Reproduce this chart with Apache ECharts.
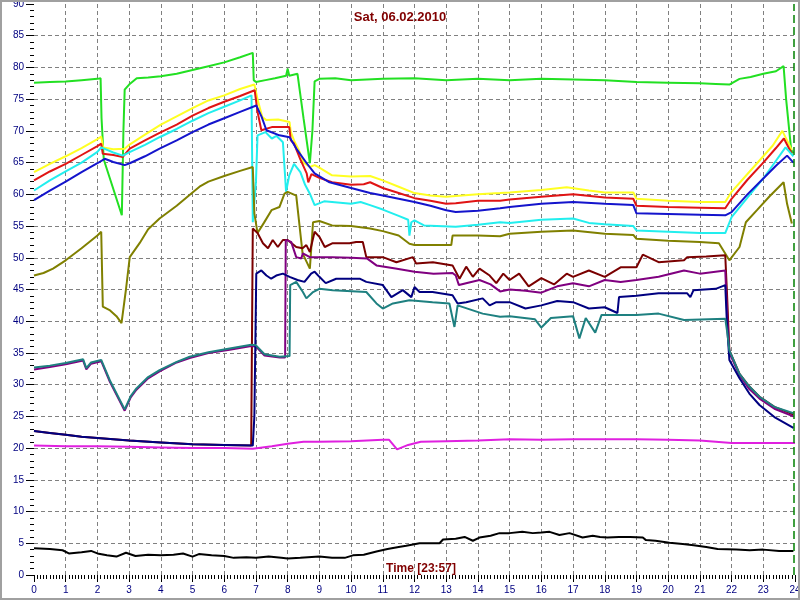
<!DOCTYPE html>
<html>
<head>
<meta charset="utf-8">
<script src="https://cdn.jsdelivr.net/npm/echarts@6/dist/echarts.min.js"></script>
<style>html,body{margin:0;padding:0;background:#fff}#c{width:800px;height:600px}</style>
</head>
<body>
<div id="c"></div>
<script>
const titleText = 'Sat, 06.02.2010';
const timeText = 'Time [23:57]';
const unitText = '°C';
const nowHour = 23.95;

const green = [[0,77.6],[0.5,77.7],[1,77.8],[1.5,78],[2,78.2],[2.1,78.3],[2.13,72],[2.2,65.5],[2.77,56.7],[2.82,70],[2.86,76.5],[3,77.3],[3.24,78.3],[3.6,78.4],[4,78.6],[4.5,79],[5,79.6],[5.5,80.2],[6,80.8],[6.5,81.6],[6.9,82.3],[6.93,78],[7,77.7],[7.3,78],[7.6,78.3],[7.95,78.7],[8,79.8],[8.05,78.7],[8.31,79],[8.5,72],[8.7,64.9],[8.78,70],[8.85,77.8],[9,78.2],[9.5,78.3],[10,78],[11,78.2],[12,78.3],[13,78],[14,78.2],[15,78],[16,78.2],[17,78.1],[18,78],[19,77.7],[20,77.6],[21,77.5],[21.5,77.4],[21.93,77.3],[22.25,78.2],[22.6,78.5],[23,79],[23.4,79.4],[23.64,80.2],[23.72,75],[23.88,67],[23.95,66.5]];
const yellow = [[0,63.5],[0.5,64.8],[1,66],[1.5,67.3],[2,68.7],[2.12,69.1],[2.18,67.4],[2.5,67.1],[2.86,67.2],[3,67.8],[3.5,69.4],[4,71],[4.5,72.3],[5,73.6],[5.5,74.8],[6,75.6],[6.5,76.6],[6.95,77.3],[7.05,75],[7.2,72.2],[7.33,71.7],[7.7,71.8],[8.06,71.4],[8.1,69.8],[8.2,68.5],[8.35,67],[8.5,65],[8.7,64.3],[8.85,64.6],[9,64.2],[9.4,63],[10,62.8],[10.6,62.9],[11,62.2],[11.5,61.2],[12,60.2],[12.5,59.8],[13,59.6],[13.5,59.8],[14,60],[14.7,60.2],[15,60.3],[16,60.7],[16.8,61.1],[17.5,60.6],[18,60.3],[18.9,60.3],[19,59.3],[20,59],[21,58.8],[21.8,58.8],[22,60.4],[22.5,63.2],[23,66],[23.3,67.7],[23.6,70],[23.9,67]];
const red = [[0,62.2],[0.5,63.6],[1,64.8],[1.5,66.2],[2,67.6],[2.12,68],[2.17,66.4],[2.5,66.2],[2.8,65.9],[3.02,67.2],[3.5,68.5],[3.96,69.7],[4.5,71],[5,72.4],[5.5,73.6],[6,74.6],[6.5,75.5],[6.96,76.4],[7.05,73],[7.17,70.1],[7.5,70.6],[8.05,70.6],[8.1,68.5],[8.2,68],[8.4,65.5],[8.6,63.3],[8.65,61.9],[8.75,63.2],[9,62.6],[9.4,61.9],[10,61.5],[10.4,61.6],[10.6,61.9],[11,61],[11.5,60.2],[12,59.4],[12.5,59],[13,58.5],[13.3,58.6],[14,59],[14.7,59],[15,59.2],[16,59.6],[17,60],[18,59.5],[18.9,59.3],[19,58.2],[20,58],[21,57.9],[21.8,57.8],[22,59.3],[22.5,62.3],[23,65],[23.4,67.3],[23.65,68.8],[23.9,66.4]];
const cyan = [[0,60.6],[0.5,62.2],[1,63.6],[1.5,65],[2,66.7],[2.12,67.4],[2.5,66.6],[2.8,66.1],[3,66.6],[3.5,67.8],[3.96,69],[4.5,70.3],[5,71.6],[5.5,72.8],[6,73.8],[6.5,74.8],[6.86,75.6],[6.9,55.6],[7.0,62],[7.05,69.3],[7.3,69.8],[7.5,68.8],[7.65,69.2],[7.85,68.2],[7.95,60.4],[8.05,63],[8.2,64.8],[8.4,63.5],[8.55,61.5],[8.7,60.1],[8.85,58.3],[9.15,58.9],[9.4,58.8],[10,58.5],[10.3,58.8],[10.6,58.3],[11,57.6],[11.5,56.6],[11.8,56],[11.84,53.5],[11.9,55.6],[12,55.9],[12.3,55.1],[13.3,54.9],[14,55.2],[14.7,55.6],[15,55.5],[16,56],[17,56.2],[17.5,55.5],[18,55.3],[18.9,55],[19,54.3],[20,54.1],[21,53.9],[21.8,53.9],[22,56.4],[22.5,59.5],[23,62.5],[23.4,65.3],[23.7,67.4],[23.95,66]];
const blue = [[0,59.1],[0.5,60.6],[1,62],[1.5,63.5],[2,64.9],[2.23,65.6],[2.5,65.1],[2.86,64.6],[3.02,64.9],[3.5,66],[3.96,67.2],[4.5,68.5],[5,69.8],[5.5,71],[6,72],[6.5,73],[7.01,74],[7.18,72.2],[7.33,70.1],[7.74,69.3],[8.06,69],[8.3,67],[8.6,64.9],[8.85,63.3],[9.32,61.9],[10,61],[10.6,60.2],[11,59.8],[11.5,59.3],[12,58.8],[12.5,58.2],[13,57.5],[13.3,57.2],[14,57.4],[14.7,57.8],[15,58],[16,58.5],[17,58.8],[18,58.5],[18.9,58.3],[19,57],[20,56.9],[21,56.8],[21.8,56.7],[22,57.2],[22.5,60],[23,62.5],[23.4,64.5],[23.75,66.1],[23.95,65]];
const olive = [[0,47.2],[0.3,47.6],[0.6,48.3],[1,49.6],[1.5,51.5],[2,53.5],[2.12,54.1],[2.17,42.3],[2.4,41.7],[2.6,40.8],[2.76,39.7],[2.9,45],[3.02,50.1],[3.33,52.3],[3.6,54.5],[3.96,56.2],[4.5,58.2],[5,60.3],[5.22,61.2],[5.5,62],[6,62.9],[6.5,63.7],[6.9,64.3],[6.95,57],[7.05,53.9],[7.25,55.5],[7.49,57.5],[7.74,58],[7.9,60.1],[8.0,60.4],[8.27,59.8],[8.47,50.7],[8.7,48.3],[8.8,55.6],[9,55.8],[9.4,55.1],[10,55],[10.6,54.6],[11,54.2],[11.5,53.5],[11.84,52.2],[12,52],[12.5,52],[13.16,52],[13.2,53.5],[14,53.5],[14.7,53.4],[15,53.8],[16,54.1],[17,54.3],[18,53.8],[18.9,53.6],[19,53],[20,52.7],[21,52.5],[21.6,52.3],[21.93,49.6],[22.25,51.7],[22.45,55.6],[22.8,57.5],[23.2,59.7],[23.64,61.9],[23.75,58.5],[23.9,55.4]];
const maroon = [[0,22.7],[0.5,22.4],[1,22.1],[1.5,21.8],[2,21.6],[3,21.2],[4,20.9],[5,20.6],[6,20.5],[6.85,20.4],[6.9,54.6],[7.05,53.9],[7.22,52.3],[7.38,51.5],[7.53,52.8],[7.69,51.7],[7.85,52.8],[8.0,52.8],[8.27,51.7],[8.47,51.5],[8.59,52],[8.7,50.9],[8.85,54.1],[9.0,53.3],[9.17,51.7],[9.42,52.3],[9.95,52.3],[10.16,52.5],[10.37,52.5],[10.48,50.1],[11.0,50.1],[11.43,49.3],[11.95,50.1],[12.05,49.1],[12.58,49.3],[13.2,48.8],[13.42,46.7],[13.63,48.6],[13.84,47],[14.05,48.3],[14.37,47.2],[14.58,46],[14.8,47.5],[15,46.5],[15.3,47.5],[15.6,45.5],[16,46.8],[16.4,45.8],[16.8,47.5],[17,47],[17.5,48],[18,47],[18.5,48.5],[19,48.5],[19.2,50.5],[19.7,49.3],[20.5,49.6],[20.6,50.1],[21.2,50.2],[21.8,50.4],[21.85,45],[21.93,35.4],[22.25,31.7],[22.56,29.7],[22.88,28.1],[23.35,26.5],[23.95,25.3]];
const purple = [[0,32.4],[0.5,32.8],[1,33.2],[1.55,33.8],[1.65,32.4],[1.8,33.3],[2.12,33.7],[2.39,30.5],[2.86,25.9],[3.05,28],[3.23,29.2],[3.6,31],[3.96,32.1],[4.5,33.5],[4.91,34.2],[5.5,35],[6.17,35.5],[6.85,36.1],[7.0,36],[7.27,34.6],[7.75,34.3],[7.92,34.3],[7.94,52.8],[8.11,52.5],[8.27,50.1],[8.43,49.9],[8.48,50.7],[8.7,50.1],[8.85,50.1],[9.4,50.1],[10,50],[10.5,49.9],[10.8,48.8],[11.4,48.3],[12,47.8],[12.6,47.5],[13.2,47.6],[13.3,47.2],[13.4,45.7],[14.05,46.5],[14.4,45.8],[14.7,44.7],[15,45],[15.5,44.8],[16,44.5],[16.5,45.5],[17,46],[17.5,45.5],[18,46.5],[18.5,46.2],[19,46.5],[19.7,47],[20.5,48],[21,47.5],[21.8,48],[21.87,40],[21.93,35],[22.25,31.5],[22.56,29.3],[22.88,27.8],[23.35,26.2],[23.95,25]];
const navy = [[0,22.7],[0.5,22.4],[1,22.1],[1.5,21.8],[2,21.6],[3,21.2],[4,20.9],[5,20.6],[6,20.5],[6.9,20.4],[6.95,25],[7.01,47.5],[7.17,48],[7.33,47.2],[7.48,46.7],[7.64,47.2],[7.85,47.5],[8.06,47],[8.31,46.5],[8.53,46.2],[8.74,47.5],[8.85,47.8],[9.0,47],[9.2,46],[9.53,46.7],[10.27,46.7],[10.48,46.2],[11.0,45.7],[11.27,43.8],[11.63,44.9],[11.9,43.8],[12.0,45.4],[12.16,44.6],[12.57,44.6],[13.2,44.1],[13.36,42.8],[13.63,43],[14.15,43.6],[14.37,42.5],[14.58,43],[15,43],[15.5,42],[16,42.5],[16.5,43.2],[17,43],[17.5,42],[18,42.2],[18.4,41.3],[18.45,43.8],[19,44],[19.7,44.4],[20.6,44.4],[20.7,43.8],[20.8,44.9],[21.5,45.1],[21.8,45.7],[21.85,40],[21.93,33.9],[22.25,31],[22.56,28.6],[22.88,26.8],[23.35,24.9],[23.95,23.2]];
const teal = [[0,32.7],[0.5,33],[1,33.4],[1.55,34],[1.65,32.6],[1.8,33.5],[2.12,33.9],[2.39,30.7],[2.86,26.1],[3.05,28.2],[3.23,29.4],[3.6,31.2],[3.96,32.3],[4.5,33.6],[4.91,34.4],[5.5,35.1],[6.17,35.7],[6.85,36.3],[7.0,36.2],[7.27,34.8],[7.75,34.4],[8.06,34.5],[8.08,45.7],[8.27,46.2],[8.48,44.6],[8.59,43.6],[8.8,44.6],[9.0,45.1],[9.42,44.9],[10.48,44.6],[10.8,42.8],[11.0,42],[11.32,42.8],[11.84,43.3],[12.57,43],[13.1,42.8],[13.26,39.1],[13.36,42.5],[14.15,41.2],[14.7,40.7],[15,40.8],[15.8,40.3],[16,39],[16.3,40.5],[17,40.8],[17.2,37.3],[17.4,40.5],[17.7,38.2],[17.9,41],[18.5,41],[19,41],[19.7,41.2],[20.5,40.2],[21.8,40.4],[21.87,38],[21.93,35.4],[22.25,31.7],[22.56,29.7],[22.88,28.1],[23.35,26.5],[23.95,25.5]];
const magenta = [[0,20.4],[1,20.3],[2,20.3],[3,20.2],[4,20.1],[5,20],[6,20],[6.9,19.9],[7.5,20.3],[8,20.7],[8.5,21],[9,21],[10,21.1],[10.5,21.2],[11,21.3],[11.2,21.3],[11.45,19.8],[11.8,20.5],[12.2,21],[13,21.1],[14,21.2],[15,21.4],[16,21.3],[17,21.4],[18,21.4],[19,21.4],[20,21.3],[21,21.2],[21.5,21],[22,20.8],[23,20.8],[24,20.8]];
const black = [[0,4.2],[0.5,4.1],[0.9,3.9],[1.1,3.4],[1.5,3.6],[1.8,3.8],[2.0,3.4],[2.3,3.1],[2.6,2.9],[2.9,3.5],[3.2,3.0],[3.6,3.2],[4,3.1],[4.4,3.2],[4.7,3.4],[5,2.9],[5.2,3.3],[5.6,3.1],[6,3.0],[6.3,2.7],[6.7,2.8],[7,2.7],[7.4,2.9],[7.8,2.7],[8,2.6],[8.4,2.7],[9,2.9],[9.4,2.7],[9.8,2.7],[10.06,3.1],[10.4,3.2],[10.8,3.7],[11.15,4.1],[11.5,4.4],[11.74,4.6],[12.16,5],[12.5,5],[12.79,5],[12.9,5.6],[13.3,5.7],[13.58,6],[13.84,5.4],[14.05,5.9],[14.4,6.2],[14.68,6.6],[15.0,6.6],[15.4,6.8],[15.73,6.6],[16.0,6.7],[16.26,6.8],[16.57,6.3],[16.89,6.6],[17.3,5.9],[17.62,6.2],[17.85,6.0],[18.08,5.9],[18.45,6],[18.8,6],[19.2,5.9],[19.3,5.5],[19.6,5.4],[20.04,5.1],[20.46,4.9],[20.8,4.7],[21.2,4.4],[21.56,4.1],[22.15,4],[22.57,3.9],[23,4],[23.5,3.8],[23.95,3.8]];

const seriesList = [
  ['green', green, '#22e022'],
  ['yellow', yellow, '#ffff22'],
  ['red', red, '#e01414'],
  ['cyan', cyan, '#22eeee'],
  ['blue', blue, '#1414cc'],
  ['olive', olive, '#808000'],
  ['maroon', maroon, '#7a0000'],
  ['purple', purple, '#800080'],
  ['navy', navy, '#000080'],
  ['teal', teal, '#1e8080'],
  ['magenta', magenta, '#e020e0'],
  ['black', black, '#000000']
];

const chart = echarts.init(document.getElementById('c'), null, {renderer: 'canvas'});
const series = seriesList.map(([name, data, color], i) => ({
  name, type: 'line', data, showSymbol: false, symbol: 'none', animation: false,
  lineStyle: {color, width: 2}, itemStyle: {color}, z: 2 + i * 0.01
}));
series[0].markLine = {
  silent: true, symbol: 'none', animation: false,
  label: {show: false},
  lineStyle: {color: '#008000', type: [8, 4], width: 1.5},
  data: [{xAxis: nowHour}]
};
const axisFont = 'Liberation Sans';
chart.setOption({
  animation: false,
  backgroundColor: '#ffffff',
  grid: {left: 34, right: 5, top: 4, bottom: 25, containLabel: false, outerBoundsMode: 'none'},
  xAxis: {
    type: 'value', min: 0, max: 24, interval: 1,
    axisLine: {show: false},
    axisTick: {show: true, length: 7, lineStyle: {color: '#000'}},
    minorTick: {show: true, splitNumber: 10, length: 4, lineStyle: {color: '#000'}},
    axisLabel: {color: '#000080', fontSize: 10, fontFamily: axisFont, margin: 10},
    splitLine: {show: true, showMinLine: false, showMaxLine: false, lineStyle: {color: '#808080', type: [4, 3], width: 1}}
  },
  yAxis: {
    type: 'value', min: 0, max: 90, interval: 5,
    name: unitText, nameLocation: 'middle', nameGap: 22,
    nameTextStyle: {color: '#800000', fontSize: 12, fontFamily: axisFont},
    axisLine: {show: false},
    axisTick: {show: true, length: 8, lineStyle: {color: '#000'}},
    minorTick: {show: true, splitNumber: 5, length: 4, lineStyle: {color: '#000'}},
    axisLabel: {color: '#000080', fontSize: 10, fontFamily: axisFont, margin: 10},
    splitLine: {show: true, showMinLine: false, showMaxLine: false, lineStyle: {color: '#808080', type: [4, 3], width: 1}}
  },
  graphic: [
    {type: 'rect', shape: {x: 1, y: 1, width: 798, height: 598}, style: {fill: 'none', stroke: '#a0a0a0', lineWidth: 2}, z: 100, silent: true},
    {type: 'text', x: 400, y: 17, style: {text: titleText, fill: '#800000', font: 'bold 13px "Liberation Sans"', textAlign: 'center', textVerticalAlign: 'middle'}, z: 100},
    {type: 'text', x: 421, y: 569, style: {text: timeText, fill: '#800000', font: 'bold 12px "Liberation Sans"', textAlign: 'center', textVerticalAlign: 'middle'}, z: 100}
  ],
  series
});
</script>
</body>
</html>
